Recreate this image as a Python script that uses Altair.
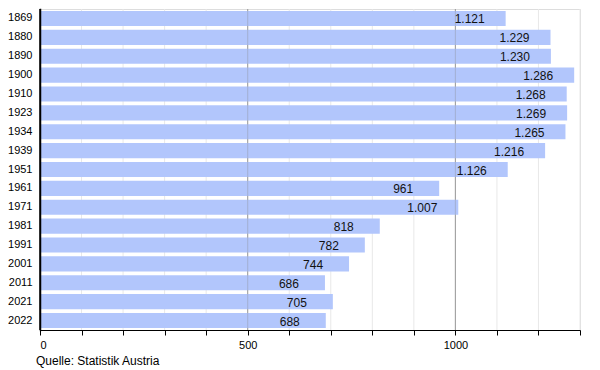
import altair as alt
import pandas as pd

years = ["1869", "1880", "1890", "1900", "1910", "1923", "1934", "1939", "1951",
         "1961", "1971", "1981", "1991", "2001", "2011", "2021", "2022"]
values = [1121, 1229, 1230, 1286, 1268, 1269, 1265, 1216, 1126,
          961, 1007, 818, 782, 744, 686, 705, 688]
minor_grid = [100, 200, 300, 400, 600, 700, 800, 900, 1100, 1200, 1300]
major_grid = [500, 1000]
tick_values = list(range(0, 1301, 100))
source_text = ["Quelle: Statistik Austria"]

FONT = "Liberation Sans"
W, H = 540, 321

df = pd.DataFrame({"year": years, "value": values})
minor_df = pd.DataFrame({"g": minor_grid})
major_df = pd.DataFrame({"g": major_grid})
src_df = pd.DataFrame({"t": source_text})

xscale = alt.Scale(domain=[0, 1300], nice=False, zero=True)
yscale = alt.Scale(domain=years, paddingInner=0.2, paddingOuter=0.1)

xaxis = alt.Axis(
    title=None,
    values=tick_values,
    format="d",
    labelExpr="datum.value % 500 == 0 ? datum.label : ''",
    grid=False,
    domain=True,
    domainColor="#000",
    domainWidth=1,
    tickColor="#000",
    tickSize=5,
    labelFont=FONT,
    labelFontSize=11,
    labelColor="#000",
    labelPadding=4,
    zindex=1,
)
yaxis = alt.Axis(
    title=None,
    ticks=False,
    domain=True,
    domainColor="#000",
    domainWidth=1.5,
    domainCap="square",
    labelFont=FONT,
    labelFontSize=11,
    labelColor="#000",
    labelPadding=8,
    zindex=2,
)

minor = alt.Chart(minor_df).mark_rule(color="#e8e8e8", strokeWidth=1).encode(
    x=alt.X("g:Q", scale=xscale, axis=xaxis)
)
major_under = alt.Chart(major_df).mark_rule(color="#a8a8a8", strokeWidth=1).encode(
    x=alt.X("g:Q", scale=xscale, axis=xaxis)
)

bars = alt.Chart(df).mark_bar(color="#b2c6fc", x2Offset=0).encode(
    x=alt.X("value:Q", scale=xscale, axis=xaxis),
    y=alt.Y("year:N", scale=yscale, sort=years, axis=yaxis),
)

major_over = alt.Chart(major_df).mark_rule(color="#888888", strokeWidth=1, opacity=0.35).encode(
    x=alt.X("g:Q", scale=xscale, axis=xaxis)
)

left_line = alt.Chart(src_df).mark_rule(color="#000000", strokeWidth=1.5).encode(
    x=alt.value(0),
    y=alt.value(0),
    y2=alt.value(H),
)

labels = alt.Chart(df).transform_calculate(
    lbl="replace(format(datum.value, ','), ',', '.')"
).mark_text(
    align="center", baseline="middle", dx=-36, dy=1, font=FONT, fontSize=12, color="#111111"
).encode(
    x=alt.X("value:Q", scale=xscale, axis=xaxis),
    y=alt.Y("year:N", scale=yscale, sort=years, axis=yaxis),
    text="lbl:N",
)

source = alt.Chart(src_df).mark_text(
    align="left", baseline="middle", font=FONT, fontSize=12, color="#000"
).encode(
    x=alt.value(-4),
    y=alt.value(H + 31),
    text="t:N",
)

chart = alt.layer(minor, major_under, bars, major_over, left_line, labels, source).properties(
    width=W,
    height=H,
    autosize=alt.AutoSizeParams(type="none"),
    padding={"left": 32, "top": 1, "right": 12, "bottom": 40},
).configure_view(stroke=None).configure(background="white")

chart.save("out.html", embed_options={"renderer": "svg", "actions": False})
